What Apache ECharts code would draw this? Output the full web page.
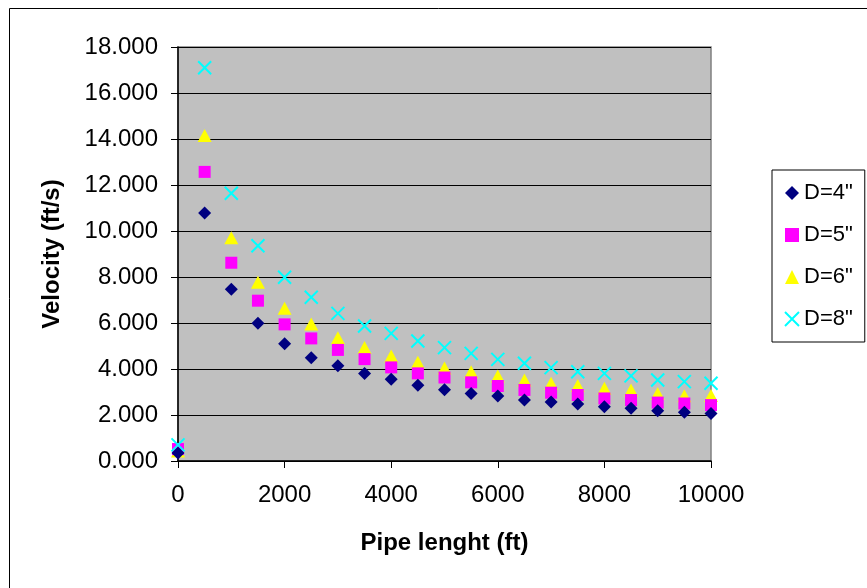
<!DOCTYPE html>
<html>
<head>
<meta charset="utf-8">
<script src="https://cdn.jsdelivr.net/npm/echarts@6/dist/echarts.min.js"></script>
<style>
html,body{margin:0;padding:0;background:#fff;}
#chart{width:867px;height:588px;}
</style>
</head>
<body>
<div id="chart"></div>
<script>
const pipeLength = [0,500,1000,1500,2000,2500,3000,3500,4000,4500,5000,5500,6000,6500,7000,7500,8000,8500,9000,9500,10000];
const velD4 = [0.35,10.78,7.47,5.99,5.10,4.49,4.14,3.80,3.55,3.29,3.10,2.94,2.83,2.65,2.57,2.48,2.36,2.29,2.19,2.12,2.07];
const velD5 = [0.52,12.57,8.62,6.97,5.94,5.33,4.83,4.43,4.07,3.81,3.63,3.42,3.26,3.09,2.97,2.87,2.72,2.65,2.54,2.50,2.43];
const velD6 = [0.43,14.15,9.71,7.77,6.64,5.96,5.36,4.93,4.57,4.29,4.04,3.88,3.70,3.52,3.38,3.28,3.16,3.09,2.93,2.84,2.85];
const velD8 = [0.70,17.10,11.64,9.36,7.99,7.12,6.42,5.87,5.55,5.22,4.93,4.68,4.42,4.25,4.06,3.88,3.81,3.70,3.52,3.45,3.38];
const seriesNames = ['D=4"','D=5"','D=6"','D=8"'];
const yTicks = {min:0, max:18, interval:2};
const xTicks = {min:0, max:10000, interval:2000};

const font = 'Liberation Sans, Arial, sans-serif';
const pair = (ys) => pipeLength.map((x,i)=>[x, ys[i]]);
const crossPath = 'path://M0,0L10,10M10,0L0,10';

const chart = echarts.init(document.getElementById('chart'), null, {renderer:'canvas'});
chart.setOption({
  animation:false,
  backgroundColor:'#ffffff',
  graphic:[{
    type:'rect', left:7, top:6,
    shape:{width:1000, height:1000},
    style:{fill:'none', stroke:'#000', lineWidth:1},
    silent:true, z:-10
  }],
  grid:{
    left:178, top:47, right:156, bottom:127,
    show:true, backgroundColor:'#C0C0C0', borderColor:'#808080', borderWidth:1.5
  },
  legend:{
    orient:'vertical',
    left:772, top:170,
    borderColor:'#000', borderWidth:1,
    padding:[12,12,12,12],
    itemGap:20,
    itemWidth:14, itemHeight:14,
    textStyle:{fontFamily:font, fontSize:22, color:'#000'},
    data:seriesNames
  },
  xAxis:{
    type:'value',
    min:xTicks.min, max:xTicks.max, interval:xTicks.interval,
    name:'Pipe lenght (ft)',
    nameLocation:'middle', nameGap:70,
    nameTextStyle:{fontFamily:font, fontSize:24, fontWeight:'bold', color:'#000'},
    axisLine:{show:true, onZero:false, lineStyle:{color:'#000', width:1.5}},
    axisTick:{show:true, inside:false, length:7, lineStyle:{color:'#000'}},
    axisLabel:{fontFamily:font, fontSize:24, color:'#000', margin:22,
      formatter:(v)=>String(v)},
    splitLine:{show:false}
  },
  yAxis:{
    type:'value',
    min:yTicks.min, max:yTicks.max, interval:yTicks.interval,
    name:'Velocity (ft/s)',
    nameLocation:'middle', nameGap:114, nameRotate:90,
    nameTextStyle:{fontFamily:font, fontSize:24, fontWeight:'bold', color:'#000'},
    axisLine:{show:true, onZero:false, lineStyle:{color:'#000', width:1.5}},
    axisTick:{show:true, inside:false, length:7, lineStyle:{color:'#000'}},
    axisLabel:{fontFamily:font, fontSize:24, color:'#000', margin:20,
      formatter:(v)=>v.toFixed(3)},
    splitLine:{show:true, lineStyle:{color:'#000', width:1.2}}
  },
  series:[
    {name:seriesNames[0], type:'scatter', data:pair(velD4), symbol:'diamond', symbolSize:13,
      itemStyle:{color:'#000080', opacity:1}, z:5},
    {name:seriesNames[1], type:'scatter', data:pair(velD5), symbol:'rect', symbolSize:12,
      itemStyle:{color:'#FF00FF', opacity:1}, z:4},
    {name:seriesNames[2], type:'scatter', data:pair(velD6), symbol:'triangle', symbolSize:[14,13],
      itemStyle:{color:'#FFFF00', opacity:1}, z:3},
    {name:seriesNames[3], type:'scatter', data:pair(velD8), symbol:crossPath, symbolSize:13,
      itemStyle:{color:'rgba(0,0,0,0)', borderColor:'#00FFFF', borderWidth:2, opacity:1}, z:6}
  ]
});
</script>
</body>
</html>
